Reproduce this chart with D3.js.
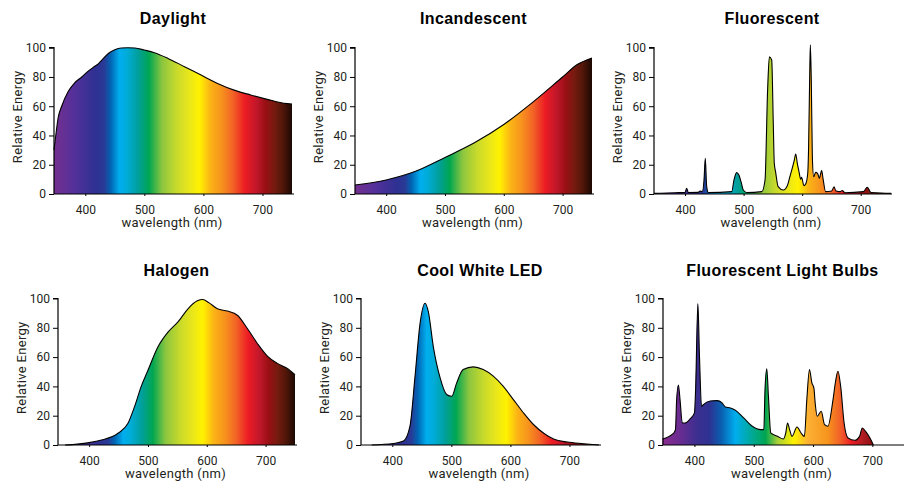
<!DOCTYPE html>
<html>
<head>
<meta charset="utf-8">
<script src="https://cdn.jsdelivr.net/npm/d3@7"></script>
<style>
  html, body { margin: 0; padding: 0; background: #ffffff; }
  svg { display: block; }
  .tick text { font-family: Roboto, "Noto Sans", sans-serif; font-size: 12px; fill: #231f20; }
  .title { font-family: "Liberation Sans", Arial, sans-serif; font-weight: bold; font-size: 16px; fill: #000; letter-spacing: 0.4px; }
  .axlabel { font-family: Roboto, "Noto Sans", sans-serif; font-size: 13px; fill: #231f20; letter-spacing: 0.3px; }
</style>
</head>
<body>
<svg id="chart" width="907" height="484"></svg>
<script>
// ---------- data ----------
const titles = ["Daylight", "Incandescent", "Fluorescent", "Halogen", "Cool White LED", "Fluorescent Light Bulbs"];
const xTicks = [400, 500, 600, 700];
const yTicks = [0, 20, 40, 60, 80, 100];

const daylightWl  = [347, 350, 354, 360, 371, 382, 394, 405, 415, 422, 428, 439, 450, 461, 472, 484, 500, 517, 540, 568, 596, 624, 652, 680, 708, 736, 750];
const daylightVal = [30, 40, 52, 60, 70, 76, 80, 84, 87, 89, 91.5, 96, 98.6, 99.8, 100, 99.8, 98.4, 96.6, 92.7, 87, 81.3, 75.6, 71, 67.7, 64.7, 62, 61.5];

const incandWl  = [347, 400, 450, 500, 550, 600, 650, 700, 725, 750];
const incandVal = [6.2, 9.6, 15.5, 25, 35, 47.5, 63, 80, 88.5, 93];

const fluorWl  = [347, 383, 400, 402.8, 405.6, 422.7, 425.6, 429.5, 432.4, 434.6, 437, 439.8, 479.7, 483.6, 488, 492, 495.6, 499.5, 505.3, 531, 536.6, 541, 544, 548, 550.7, 552.4, 554.7, 559, 567.7, 575, 579, 583, 586.5, 589, 591.7, 594.6, 597.5, 599, 603, 606, 609.5, 611, 612.9, 614, 615.6, 617.4, 619.7, 623, 626.5, 629.3, 633.3, 636, 640, 650.4, 654.4, 657.3, 664.6, 668.6, 673, 704.4, 711.3, 717.6, 747.4, 752];
const fluorVal = [0.4, 0.9, 1.1, 3.9, 1, 1.1, 2, 1.6, 9.6, 24.4, 5, 1, 1.6, 9.6, 14.6, 13, 8.4, 2.7, 1, 1.6, 9.6, 71, 93.8, 91.6, 48, 21, 15, 5, 2.7, 6, 11.8, 17.5, 23, 27.3, 21, 15.3, 10, 11.4, 5.7, 6.8, 14, 32, 82, 102, 78, 25.5, 11.8, 14.8, 14, 10.7, 16, 9.6, 1.6, 2, 5, 2.3, 1.6, 2.3, 0.9, 1.6, 4.6, 1, 0.5, 0.4];

const halogenWl  = [359, 380, 400, 421, 449, 466, 477, 488.5, 500, 517, 534, 551, 568, 584, 593, 604, 618, 635, 652, 669, 686, 703, 720, 737, 750];
const halogenVal = [0, 0.6, 1.6, 3.4, 8, 14.8, 26, 40, 51, 67, 77, 84, 93, 98.4, 99.3, 97, 93, 91.4, 88.6, 79.5, 69.3, 60.7, 55.7, 52.3, 48];

const ledWl  = [365, 402, 419, 430, 438.5, 447, 455.4, 461, 469.5, 481, 492, 500.7, 509, 520, 537, 554, 571, 588, 605, 622, 639, 657, 674, 696, 724, 750];
const ledVal = [0, 1, 2.7, 13, 47, 83, 96.8, 91, 67, 45.8, 34.5, 33.3, 42.4, 51.5, 53.3, 51.5, 47, 40, 31, 22, 14, 7.9, 3.9, 2, 0.9, 0];

const bulbWl  = [346, 364, 368, 370, 373, 375.7, 379.6, 384, 392.7, 400, 402, 405.8, 408.5, 412, 415, 426.7, 438, 446.6, 452, 460.7, 469, 483, 497.6, 511.7, 517, 519, 522, 524.8, 528.7, 540, 550, 554, 557, 560.5, 564.5, 573, 579.8, 585.4, 589.5, 594, 598, 601.4, 603.6, 607, 613.8, 619.4, 625, 633.7, 638, 642, 646.6, 652.4, 659, 670.4, 678.4, 683, 688.6, 696, 701.7];
const bulbVal = [4.1, 7.7, 10.5, 31, 41, 31, 15, 15, 17.8, 21.9, 38, 96.6, 60.6, 26.4, 27.6, 30, 30.3, 28.7, 26, 25.3, 23.7, 18.5, 12.8, 10.5, 10.5, 37.8, 52, 33, 8.2, 5.9, 4.1, 8.2, 15, 10.5, 5.9, 12.3, 8.2, 5.9, 31, 51.5, 42.4, 39, 28.7, 19.6, 23, 13.9, 12.8, 31, 43.5, 50.3, 40, 15, 4.8, 3.2, 5.9, 11.6, 9.3, 4.8, 0];

// spectrum colour stops (wavelength -> colour), standard panels
const spectrumWl     = [347, 380, 418, 432, 443, 458, 470, 490, 508, 530, 555, 575, 593, 612, 630, 650, 670, 690, 705, 720, 735, 750];
const spectrumColors = ["#74308f", "#55309a", "#2e3192", "#293a96", "#0065b3", "#00aeef", "#00acd9", "#009f9a", "#00a651", "#8cc63f", "#c9da2b", "#e8e61c", "#fff200", "#fbb316", "#f7941d", "#f26326", "#ed1c24", "#c0172a", "#9a0f14", "#761b0f", "#4f1609", "#1b0904"];
// spectrum colour stops for the "Fluorescent Light Bulbs" panel
const bulbSpectrumWl     = [346, 375, 405, 425, 445, 469, 495, 520, 540, 568, 592, 625, 648, 665, 682, 702];
const bulbSpectrumColors = ["#8b2b8e", "#6a2c91", "#3b2f90", "#2e3192", "#0a5eb0", "#00aeef", "#00a99d", "#00a651", "#a6cf39", "#fff200", "#fbb034", "#f7941d", "#f15a29", "#ed1c24", "#b51d23", "#8b0f12"];

// ---------- layout ----------
const panelLeft = [54, 355, 654, 58, 361, 663];
const panelWidth = [238, 237, 236, 237, 238, 239];
const rowBase = [194, 445];
const rowTop = [47.7, 298.5];
const titleBase = [23.5, 276];

const series = [
  [daylightWl, daylightVal],
  [incandWl, incandVal],
  [fluorWl, fluorVal],
  [halogenWl, halogenVal],
  [ledWl, ledVal],
  [bulbWl, bulbVal]
];
const stopsFor = i => i === 5 ? [bulbSpectrumWl, bulbSpectrumColors] : [spectrumWl, spectrumColors];

const svg = d3.select("#chart");
const defs = svg.append("defs");

titles.forEach((title, i) => {
  const row = i < 3 ? 0 : 1;
  const x = d3.scaleLinear().domain([347, 750]).range([panelLeft[i], panelLeft[i] + panelWidth[i]]);
  const y = d3.scaleLinear().domain([0, 100]).range([rowBase[row], rowTop[row]]);
  const g = svg.append("g");

  // gradient in data space
  const gid = "spec" + i;
  const [sw, sc] = stopsFor(i);
  const grad = defs.append("linearGradient")
    .attr("id", gid)
    .attr("gradientUnits", "userSpaceOnUse")
    .attr("x1", x(sw[0])).attr("x2", x(sw[sw.length - 1]))
    .attr("y1", 0).attr("y2", 0);
  sw.forEach((w, k) => {
    grad.append("stop")
      .attr("offset", (w - sw[0]) / (sw[sw.length - 1] - sw[0]))
      .attr("stop-color", sc[k]);
  });

  const [wl, val] = series[i];
  const pts = wl.map((w, k) => [w, val[k]]);

  const area = d3.area()
    .x(d => x(d[0]))
    .y0(y(0))
    .y1(d => y(d[1]))
    .curve(d3.curveMonotoneX);
  const line = d3.line()
    .x(d => x(d[0]))
    .y(d => y(d[1]))
    .curve(d3.curveMonotoneX);

  g.append("path").datum(pts).attr("d", area).attr("fill", `url(#${gid})`);
  g.append("path").datum(pts).attr("d", line)
    .attr("fill", "none").attr("stroke", "#000").attr("stroke-width", 1.1)
    .attr("stroke-linejoin", "round");

  // axes
  const yAxis = d3.axisLeft(y).tickValues(yTicks).tickSize(5).tickPadding(3);
  const yg = g.append("g").attr("transform", `translate(${x(347)},0)`).call(yAxis);
  yg.select(".domain").attr("d", `M-5,${y(100)}H0V${y(0)}`).attr("stroke", "#000").attr("stroke-width", 1.2);
  yg.selectAll(".tick line").attr("stroke", "#000").attr("stroke-width", 1);

  const xAxis = d3.axisBottom(x).tickValues(xTicks).tickSize(2).tickPadding(9);
  const xg = g.append("g").attr("transform", `translate(0,${y(0)})`).call(xAxis);
  xg.select(".domain").attr("d", `M${x(347)},0H${x(750) + 2}`).attr("stroke", "#000").attr("stroke-width", 1.2);
  xg.selectAll(".tick line").attr("stroke", "#000");

  // labels
  const cx = (x(347) + x(750)) / 2;
  g.append("text").attr("class", "title")
    .attr("x", cx).attr("y", titleBase[row])
    .attr("text-anchor", "middle").text(title);
  g.append("text").attr("class", "axlabel")
    .attr("x", cx - 1).attr("y", y(0) + 33)
    .attr("text-anchor", "middle").text("wavelength (nm)");
  const ly = (y(0) + y(100)) / 2 - 4;
  g.append("text").attr("class", "axlabel")
    .attr("transform", `translate(${x(347) - 32},${ly}) rotate(-90)`)
    .attr("text-anchor", "middle").text("Relative Energy");
});
</script>
</body>
</html>
